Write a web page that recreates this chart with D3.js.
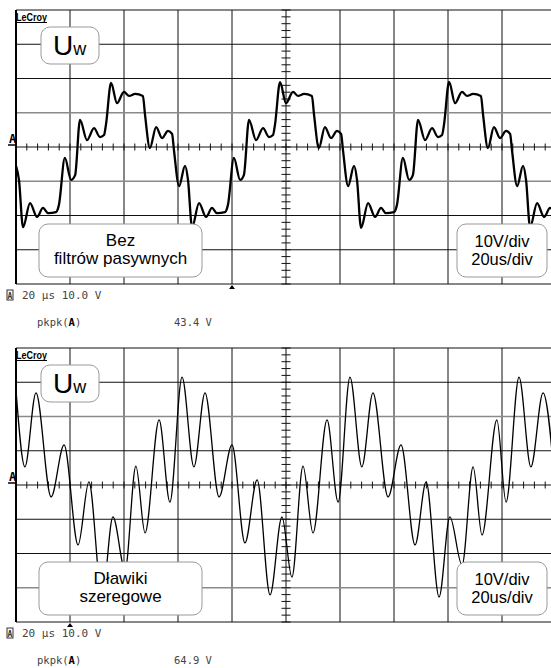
<!DOCTYPE html>
<html>
<head>
<meta charset="utf-8">
<script src="https://cdn.jsdelivr.net/npm/d3@7"></script>
<style>
body { margin: 0; background: #fff; }
svg text { font-family: "Liberation Sans", Arial, sans-serif; }
svg .mono { font-family: "DejaVu Sans Mono", monospace; }
</style>
</head>
<body>
<svg width="551" height="668"></svg>
<script>
// time in us from the left edge of the screen, voltage in V
var timeA = [0, 1.1, 2.6, 5.2, 7.8, 10.0, 11.9, 14.8, 15.9, 18.1, 20.4,
  21.9, 23.7, 26.3, 28.9, 31.1, 32.6, 33.3, 35.2, 37.4, 40.0, 41.9, 44.1, 47.0, 47.8, 49.6, 51.9,
  54.1, 56.3, 57.8, 58.5, 60.4, 62.6, 63.7, 65.2, 67.8, 70.4, 72.6, 74.4, 77.4, 78.5, 80.7, 83.0,
  84.4, 86.3, 88.9, 91.5, 93.7, 95.2, 95.9, 97.8, 100.0, 102.6, 104.4, 106.7, 109.6, 110.4, 112.2, 114.4,
  116.7, 118.9, 120.4, 121.1, 123.0, 125.2, 126.3, 127.8, 130.4, 133.0, 135.2, 137.0, 140.0, 141.1, 143.3, 145.6,
  147.0, 148.9, 151.5, 154.1, 156.3, 157.8, 158.5, 160.4, 162.6, 165.2, 167.0, 169.3, 172.2, 173.0, 174.8, 177.0,
  179.3, 181.5, 183.0, 183.7, 185.6, 187.8, 188.9, 190.4, 193.0, 195.6, 197.8, 199.6];
var voltA = [-5.5, -9.6, -23.4, -16.4, -20.4, -17.8, -19.3, -19.0, -16.9, -3.2, -9.6,
  -8.2, 7.9, 2.0, 5.5, 2.9, 3.5, 6.4, 18.7, 12.8, 16.1, 14.9, 15.5, 14.9, 9.3, -0.3, 5.8,
  2.6, 4.7, 3.8, -0.9, -11.4, -5.5, -9.6, -23.4, -16.4, -20.4, -17.8, -19.3, -19.0, -16.9, -3.2, -9.6,
  -8.2, 7.9, 2.0, 5.5, 2.9, 3.5, 6.4, 18.9, 12.8, 16.1, 14.9, 15.5, 14.9, 9.3, -0.3, 5.8,
  2.6, 4.7, 3.8, -0.9, -11.4, -5.5, -9.6, -23.6, -16.4, -20.4, -17.8, -19.3, -19.0, -16.9, -3.2, -9.6,
  -8.2, 7.9, 2.0, 5.5, 2.9, 3.5, 6.4, 19.0, 12.8, 16.1, 14.9, 15.5, 14.9, 9.3, -0.3, 5.8,
  2.6, 4.7, 3.8, -0.9, -11.4, -5.5, -9.6, -23.4, -16.4, -20.4, -17.8, -19.3];

var timeB = [0, 3.3, 7.4, 13.0, 17.8, 23.0, 27.0, 31.9, 35.9, 40.4, 44.4, 47.8, 53.0, 57.0, 61.5,
  65.9, 70.0, 75.2, 80.0, 84.8, 89.3, 94.1, 98.5, 102.2, 106.3, 110.0, 115.2, 119.3, 123.7,
  128.1, 132.2, 137.8, 142.6, 147.8, 151.9, 156.7, 160.7, 165.2, 169.3, 172.6, 178.1, 181.5, 186.3,
  190.7, 195.2, 200.0];
var voltB = [27.7, 5.3, 26.9, -3.5, 11.7, -17.5, 0.9, -32.7, -9.3, -24.8, 5.5, -14.0, 19.0, -5.0, 31.5,
  5.3, 26.9, -3.5, 11.7, -16.9, 1.5, -32.1, -9.3, -26.9, 5.5, -14.0, 19.0, -5.0, 31.5,
  5.3, 26.9, -3.5, 11.7, -17.5, 0.9, -32.7, -9.3, -23.4, 5.3, -14.6, 19.0, -5.0, 31.5,
  5.3, 26.9, -3.5];

var timeGrid = d3.range(0, 201, 20);   // 20 us/div
var voltGrid = d3.range(-40, 41, 10);  // 10 V/div
var labelA = ["Bez", "filtrów pasywnych"];
var labelB = ["Dławiki", "szeregowe"];
var scaleText = ["10V/div", "20us/div"];
var statusText = "20 µs 10.0 V";
var pkpkValues = ["43.4 V", "64.9 V"];
var triggerTime = [80, 20];
var grayLines = [[10, -10], [20, -30]];

var svg = d3.select("svg");
svg.append("rect").attr("width", 551).attr("height", 668).attr("fill", "#fff");

var x = d3.scaleLinear().domain([0, 200]).range([16, 556]);

function scope(top, time, volt, label, i, traceWidth) {
  var y = d3.scaleLinear().domain([-40, 40]).range([top + 274, top]);
  var g = svg.append("g");

  //siatka
  g.selectAll(".vl").data(timeGrid).enter().append("line")
    .attr("x1", d => x(d)).attr("x2", d => x(d))
    .attr("y1", y(40)).attr("y2", y(-40))
    .attr("stroke", "#111").attr("stroke-width", 1);
  g.selectAll(".hl").data(voltGrid).enter().append("line")
    .attr("x1", x(0)).attr("x2", 551)
    .attr("y1", d => y(d)).attr("y2", d => y(d))
    .attr("stroke", d => grayLines[i].indexOf(d) >= 0 ? "#8a8a8a" : "#111")
    .attr("stroke-width", d => grayLines[i].indexOf(d) >= 0 ? 1.6 : 1);
  g.append("line").attr("x1", x(0)).attr("x2", x(0))
    .attr("y1", y(40)).attr("y2", y(-40))
    .attr("stroke", "#000").attr("stroke-width", 2);

  // drobne podzialki na osiach srodkowych
  g.selectAll(".tx").data(d3.range(0, 201, 4)).enter().append("line")
    .attr("x1", d => x(d)).attr("x2", d => x(d))
    .attr("y1", y(0) - 3.5).attr("y2", y(0) + 3.5)
    .attr("stroke", "#111");
  g.selectAll(".ty").data(d3.range(-40, 41, 2)).enter().append("line")
    .attr("x1", x(100) - 4.5).attr("x2", x(100) + 4.5)
    .attr("y1", d => y(d)).attr("y2", d => y(d))
    .attr("stroke", "#111");

  // przebieg
  var clipId = "clip" + i;
  svg.append("clipPath").attr("id", clipId).append("rect")
    .attr("x", x(0)).attr("y", top).attr("width", 551 - x(0)).attr("height", 274);
  var line = d3.line()
    .x((d, k) => x(time[k])).y(d => y(d))
    .curve(d3.curveMonotoneX);
  g.append("path").datum(volt)
    .attr("clip-path", "url(#" + clipId + ")")
    .attr("d", line)
    .attr("fill", "none").attr("stroke", "#000")
    .attr("stroke-width", traceWidth).attr("stroke-linejoin", "round");

  // znacznik wyzwalania
  var tx = x(triggerTime[i]);
  g.append("path")
    .attr("d", "M" + (tx - 3) + "," + (y(-40) + 5) + "L" + tx + "," + (y(-40) + 1) + "L" + (tx + 3) + "," + (y(-40) + 5) + "Z")
    .attr("fill", "#000");

  // logo
  g.append("text").attr("x", 16).attr("y", top + 10.5)
    .attr("font-family", "DejaVu Sans").attr("font-weight", "bold")
    .attr("font-size", 10.5).attr("textLength", 31).attr("lengthAdjust", "spacingAndGlyphs")
    .attr("fill", "#000").text("LeCroy");
  g.append("line").attr("x1", 16).attr("x2", 47)
    .attr("y1", top + 12.5).attr("y2", top + 12.5).attr("stroke", "#000");

  // znacznik kanalu A
  g.append("text").attr("x", 9).attr("y", y(0) - 4)
    .attr("class", "mono").attr("font-weight", "bold")
    .attr("font-size", 12).text("A");
  g.append("line").attr("x1", 8).attr("x2", 16)
    .attr("y1", y(0) - 2).attr("y2", y(0) - 2).attr("stroke", "#000").attr("stroke-width", 1.5);

  // ramki z opisami
  function box(bx, by, bw, bh) {
    g.append("rect").attr("x", bx).attr("y", by).attr("width", bw).attr("height", bh)
      .attr("rx", 9).attr("fill", "#fff").attr("stroke", "#999").attr("stroke-width", 1);
  }
  box(41, top + 17, 58, 37);
  var u = g.append("text").attr("x", 53).attr("y", top + 45).attr("fill", "#000");
  u.append("tspan").attr("font-size", 28).text("U");
  u.append("tspan").attr("font-size", 18).text("w");

  box(39, top + 214, 163, 53);
  g.selectAll(".lb").data(label).enter().append("text")
    .attr("x", 120.5).attr("y", (d, k) => top + 236 + k * 18)
    .attr("text-anchor", "middle").attr("font-size", 17).text(d => d);

  box(457, top + 214, 90, 53);
  g.selectAll(".sc").data(scaleText).enter().append("text")
    .attr("x", 502).attr("y", (d, k) => top + 237 + k * 18)
    .attr("text-anchor", "middle").attr("font-size", 16.5).text(d => d);

  // linia statusu
  g.append("rect").attr("x", 7).attr("y", top + 280).attr("width", 6).attr("height", 10)
    .attr("fill", "none").attr("stroke", "#333");
  g.append("text").attr("x", 7.6).attr("y", top + 289).attr("class", "mono")
    .attr("font-weight", "bold").attr("font-size", 8).attr("fill", "#333").text("A");
  g.append("text").attr("x", 22).attr("y", top + 289).attr("class", "mono")
    .attr("font-size", 11).attr("fill", "#444").text(statusText);

  var pk = g.append("text").attr("x", 37).attr("y", top + 316).attr("class", "mono")
    .attr("font-size", 10.5).attr("fill", "#444");
  pk.append("tspan").text("pkpk(");
  pk.append("tspan").attr("font-weight", "bold").attr("fill", "#000").text("A");
  pk.append("tspan").text(")");
  g.append("text").attr("x", 174).attr("y", top + 316).attr("class", "mono")
    .attr("font-size", 10.5).attr("fill", "#444").text(pkpkValues[i]);
}

scope(10, timeA, voltA, labelA, 0, 2.3);
scope(348, timeB, voltB, labelB, 1, 1.3);
</script>
</body>
</html>
